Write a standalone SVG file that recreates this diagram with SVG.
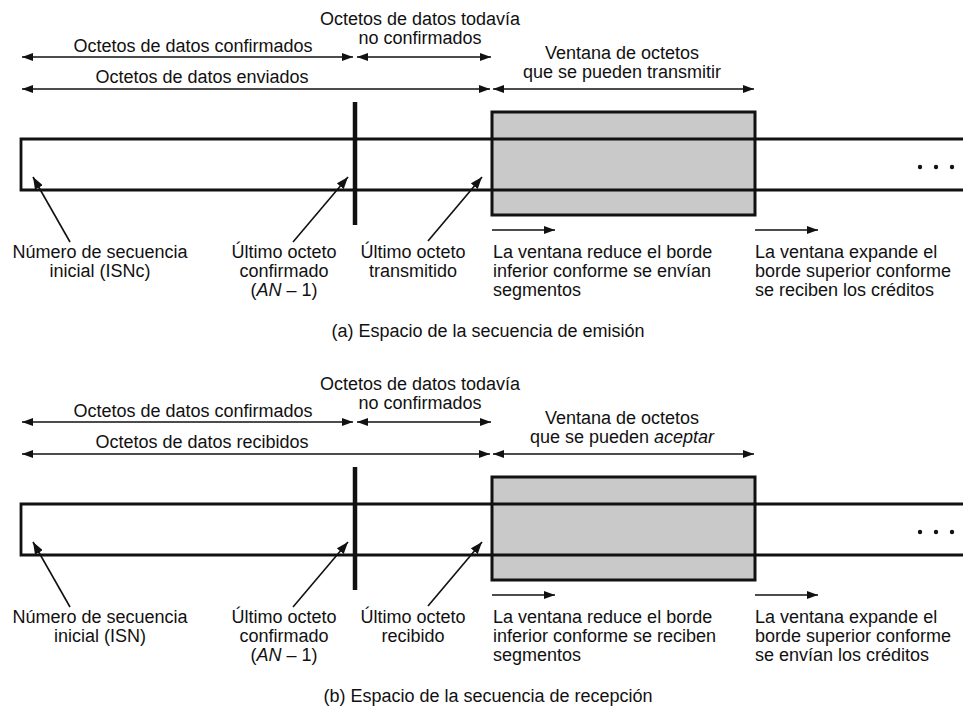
<svg xmlns="http://www.w3.org/2000/svg" width="963" height="709" viewBox="0 0 963 709">
<style>
text{font-family:"Liberation Sans",Arial,sans-serif;font-size:18px;fill:#111}
.m{text-anchor:middle}
.it{font-style:italic}
.ln{stroke:#111;stroke-width:1.6;fill:none}
.da{marker-start:url(#ah);marker-end:url(#ah)}
.sa{marker-end:url(#ah)}
.pa{marker-end:url(#ph)}
.strip{fill:none;stroke:#111;stroke-width:2.8}
.win{fill:#c9c9c9}
.winb{fill:none;stroke:#111;stroke-width:3}
.bar{stroke:#111;stroke-width:4.5}
.dot{fill:#111}
</style>
<defs>
<marker id="ah" viewBox="0 0 11 8" refX="11" refY="4" markerWidth="11" markerHeight="8" markerUnits="userSpaceOnUse" orient="auto-start-reverse"><path d="M0,0 L11,4 L0,8 z" fill="#111"/></marker>
<marker id="ph" viewBox="0 0 12 9" refX="12" refY="4.5" markerWidth="12" markerHeight="9" markerUnits="userSpaceOnUse" orient="auto"><path d="M0,0 L12,4.5 L0,9 z" fill="#111"/></marker>
<pattern id="noise" width="6" height="6" patternUnits="userSpaceOnUse"><rect width="6" height="6" fill="#cacaca"/><rect x="0" y="0" width="1" height="1" fill="#b5b5b5"/><rect x="3" y="3" width="1" height="1" fill="#b5b5b5"/><rect x="2" y="1" width="1" height="1" fill="#dedede"/><rect x="5" y="4" width="1" height="1" fill="#dedede"/></pattern>
</defs>

<!-- Panel (a) -->
<g id="panel-a">
  <g id="a-window"><rect class="win" x="492" y="112" width="263" height="103" fill="url(#noise)"/></g>
  <g id="a-strip"><path class="strip" d="M963,139 H21 V190 H963"/></g>
  <g id="a-window-border"><rect class="winb" x="492" y="112" width="263" height="103"/></g>
  <g id="a-bar"><line class="bar" x1="355" y1="102" x2="355" y2="225"/></g>
  <g id="a-dots"><circle class="dot" cx="920" cy="167" r="2.2"/><circle class="dot" cx="936" cy="167" r="2.2"/><circle class="dot" cx="952" cy="167" r="2.2"/></g>
  <g id="a-connectors">
    <line class="ln da" x1="22" y1="57" x2="353" y2="57"/>
    <line class="ln da" x1="357" y1="57" x2="491" y2="57"/>
    <line class="ln da" x1="22" y1="89" x2="490" y2="89"/>
    <line class="ln da" x1="493" y1="89" x2="754" y2="89"/>
    <line class="ln sa" x1="492" y1="230" x2="555" y2="230"/>
    <line class="ln sa" x1="755" y1="230" x2="818" y2="230"/>
    <line class="ln pa" x1="70" y1="242" x2="33" y2="177"/>
    <line class="ln pa" x1="293" y1="242" x2="348" y2="177"/>
    <line class="ln pa" x1="428" y1="241" x2="482" y2="177"/>
  </g>
  <g id="a-lbl-unconfirmed"><text class="m" x="420" y="25">Octetos de datos todavía</text><text class="m" x="420" y="44">no confirmados</text></g>
  <g id="a-lbl-confirmed"><text class="m" x="193" y="52">Octetos de datos confirmados</text></g>
  <g id="a-lbl-sent"><text class="m" x="202" y="83">Octetos de datos enviados</text></g>
  <g id="a-lbl-window"><text class="m" x="622" y="59">Ventana de octetos</text><text class="m" x="622" y="78">que se pueden transmitir</text></g>
  <g id="a-lbl-isn"><text class="m" x="100" y="258">Número de secuencia</text><text class="m" x="100" y="277">inicial (ISNc)</text></g>
  <g id="a-lbl-ack"><text class="m" x="284" y="258">Último octeto</text><text class="m" x="284" y="277">confirmado</text><text class="m" x="284" y="296">(<tspan class="it">AN</tspan> – 1)</text></g>
  <g id="a-lbl-last"><text class="m" x="413" y="258">Último octeto</text><text class="m" x="413" y="277">transmitido</text></g>
  <g id="a-lbl-shrink"><text x="493" y="258">La ventana reduce el borde</text><text x="493" y="277">inferior conforme se envían</text><text x="493" y="296">segmentos</text></g>
  <g id="a-lbl-expand"><text x="755" y="258">La ventana expande el</text><text x="755" y="277">borde superior conforme</text><text x="755" y="296">se reciben los créditos</text></g>
  <g id="a-caption"><text class="m" x="488" y="337">(a) Espacio de la secuencia de emisión</text></g>
</g>

<!-- Panel (b) -->
<g id="panel-b" transform="translate(0,365)">
  <g id="b-window"><rect class="win" x="492" y="112" width="263" height="103" fill="url(#noise)"/></g>
  <g id="b-strip"><path class="strip" d="M963,139 H21 V190 H963"/></g>
  <g id="b-window-border"><rect class="winb" x="492" y="112" width="263" height="103"/></g>
  <g id="b-bar"><line class="bar" x1="355" y1="102" x2="355" y2="225"/></g>
  <g id="b-dots"><circle class="dot" cx="920" cy="167" r="2.2"/><circle class="dot" cx="936" cy="167" r="2.2"/><circle class="dot" cx="952" cy="167" r="2.2"/></g>
  <g id="b-connectors">
    <line class="ln da" x1="22" y1="57" x2="353" y2="57"/>
    <line class="ln da" x1="357" y1="57" x2="491" y2="57"/>
    <line class="ln da" x1="22" y1="89" x2="490" y2="89"/>
    <line class="ln da" x1="493" y1="89" x2="754" y2="89"/>
    <line class="ln sa" x1="492" y1="230" x2="555" y2="230"/>
    <line class="ln sa" x1="755" y1="230" x2="818" y2="230"/>
    <line class="ln pa" x1="70" y1="242" x2="33" y2="177"/>
    <line class="ln pa" x1="293" y1="242" x2="348" y2="177"/>
    <line class="ln pa" x1="428" y1="241" x2="482" y2="177"/>
  </g>
  <g id="b-lbl-unconfirmed"><text class="m" x="420" y="25">Octetos de datos todavía</text><text class="m" x="420" y="44">no confirmados</text></g>
  <g id="b-lbl-confirmed"><text class="m" x="193" y="52">Octetos de datos confirmados</text></g>
  <g id="b-lbl-received"><text class="m" x="202" y="83">Octetos de datos recibidos</text></g>
  <g id="b-lbl-window"><text class="m" x="622" y="59">Ventana de octetos</text><text class="m" x="622" y="78">que se pueden <tspan class="it">aceptar</tspan></text></g>
  <g id="b-lbl-isn"><text class="m" x="100" y="258">Número de secuencia</text><text class="m" x="100" y="277">inicial (ISN)</text></g>
  <g id="b-lbl-ack"><text class="m" x="284" y="258">Último octeto</text><text class="m" x="284" y="277">confirmado</text><text class="m" x="284" y="296">(<tspan class="it">AN</tspan> – 1)</text></g>
  <g id="b-lbl-last"><text class="m" x="413" y="258">Último octeto</text><text class="m" x="413" y="277">recibido</text></g>
  <g id="b-lbl-shrink"><text x="493" y="258">La ventana reduce el borde</text><text x="493" y="277">inferior conforme se reciben</text><text x="493" y="296">segmentos</text></g>
  <g id="b-lbl-expand"><text x="755" y="258">La ventana expande el</text><text x="755" y="277">borde superior conforme</text><text x="755" y="296">se envían los créditos</text></g>
  <g id="b-caption"><text class="m" x="488" y="337">(b) Espacio de la secuencia de recepción</text></g>
</g>
</svg>
